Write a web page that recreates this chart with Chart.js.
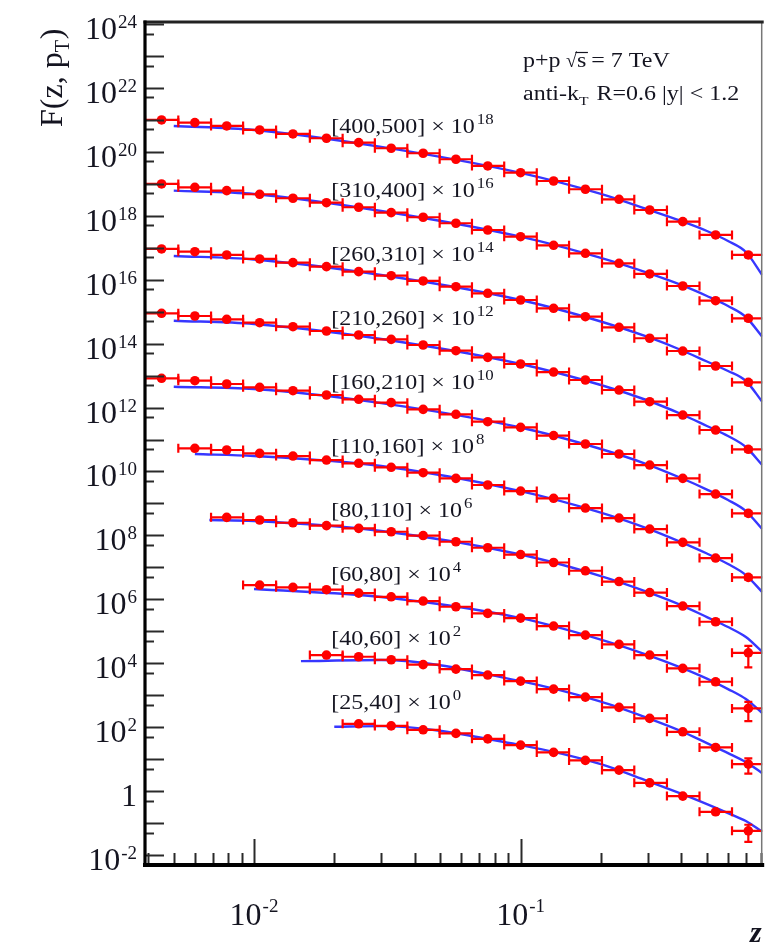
<!DOCTYPE html>
<html>
<head>
<meta charset="utf-8">
<title>F(z, pT)</title>
<script src="https://cdn.jsdelivr.net/npm/chart.js@4.4.1/dist/chart.umd.min.js"></script>
<style>
  html, body { margin: 0; padding: 0; background: #fff; }
  #wrap { width: 767px; height: 949px; }
</style>
</head>
<body>
<div id="wrap"><canvas id="fzChart" width="767" height="949"></canvas></div>
<script>
// --- DATOS ---
// centros y bordes de los bins en z
const zCenters = [0.0045, 0.0060, 0.0079, 0.0105, 0.0140, 0.0187, 0.0247, 0.0327, 0.0431, 0.0572,
                  0.0753, 0.100, 0.133, 0.175, 0.234, 0.305, 0.406, 0.539, 0.715];
const zEdges = [0.0039, 0.0052, 0.0069, 0.0091, 0.0121, 0.0162, 0.0215, 0.0284, 0.0376, 0.0497,
                0.0657, 0.0868, 0.115, 0.152, 0.202, 0.267, 0.354, 0.469, 0.621, 0.824];

// bins de pT del jet, factor de escala (10^n) y primer bin de z con datos
const ptBins = ['[400,500]', '[310,400]', '[260,310]', '[210,260]', '[160,210]',
                '[110,160]', '[80,110]', '[60,80]', '[40,60]', '[25,40]'];
const scaleExp = [18, 16, 14, 12, 10, 8, 6, 4, 2, 0];
const firstBin = [0, 0, 0, 0, 0, 1, 2, 3, 5, 6];

// F(z, pT) medido, sin escalar
const f400_500 = [991, 817, 644, 482, 361, 265, 193, 129, 89.9, 58.5, 36.1, 22.2, 12.2, 6.73, 3.27, 1.51, 0.652, 0.250, 0.0592];
const f310_400 = [986, 776, 608, 469, 352, 256, 184, 125, 89.5, 58.1, 35.8, 22.1, 11.9, 6.68, 3.25, 1.51, 0.634, 0.220, 0.0619];
const f260_310 = [912, 750, 592, 444, 340, 255, 178, 133, 91.0, 60.3, 37.5, 23.1, 12.7, 6.95, 3.24, 1.47, 0.586, 0.199, 0.0615];
const f210_260 = [887, 731, 575, 451, 338, 248, 186, 136, 90.4, 60.0, 37.2, 23.0, 12.9, 7.26, 3.53, 1.52, 0.583, 0.198, 0.0493];
const f160_210 = [820, 690, 545, 430, 336, 247, 181, 142, 87.9, 61.4, 36.0, 24.0, 13.3, 7.23, 3.52, 1.59, 0.610, 0.197, 0.0490];
const f110_160 = [530, 469, 369, 304, 228, 180, 135, 91.4, 61.0, 37.7, 24.4, 14.5, 7.18, 3.49, 1.58, 0.607, 0.196, 0.0486];
const f80_110 = [367, 303, 249, 203, 166, 130, 99.1, 63.4, 41.1, 25.2, 14.2, 7.83, 3.60, 1.63, 0.617, 0.199, 0.0213];
const f60_80 = [280, 237, 200, 157, 120, 88.3, 58.6, 36.4, 25.9, 14.6, 7.62, 3.90, 1.81, 0.693, 0.264, 0.0388];
const f40_60 = [181, 160, 129, 91.0, 65.8, 42.8, 27.7, 15.6, 8.75, 4.17, 1.89, 0.719, 0.233, 0.0702];
const f25_40 = [128, 110, 83.0, 64.1, 43.2, 27.6, 16.3, 9.16, 4.55, 1.82, 0.700, 0.226, 0.0574];

// errores relativos en y (solo los ultimos bins se ven)
const errLast = [0.15, 0.15, 0.15, 0.15, 0.15, 0.15, 0.65, 0.6, 0.5, 0.55];
const errPrev = [0.08, 0.08, 0.08, 0.08, 0.08, 0.08, 0.15, 0.15, 0.12, 0.12];
const errBase = 0.04;

// curvas de ajuste: primer punto (fitStart) y luego los nodos comunes
const fitStart = [0.0050, 0.0050, 0.0050, 0.0050, 0.0050, 0.0060, 0.0068, 0.010, 0.015, 0.020];
const fitKnots = [0.01, 0.03, 0.1, 0.2, 0.3, 0.4, 0.5, 0.6, 0.7, 0.806];
const fit400_500 = [644, 482, 142, 21.8, 4.80, 1.57, 0.685, 0.333, 0.162, 0.0734, 0.0140];
const fit310_400 = [608, 480, 141, 22.1, 4.77, 1.62, 0.682, 0.308, 0.150, 0.0679, 0.0164];
const fit260_310 = [551, 428, 140, 23.1, 4.91, 1.61, 0.631, 0.275, 0.139, 0.0676, 0.0152];
const fit210_260 = [521, 410, 139, 23.0, 5.07, 1.66, 0.627, 0.264, 0.129, 0.0582, 0.0159];
const fit160_210 = [448, 380, 138, 23.7, 5.04, 1.65, 0.624, 0.272, 0.128, 0.0578, 0.0158];
const fit110_160 = [352, 304, 148, 24.4, 5.19, 1.64, 0.619, 0.271, 0.127, 0.0575, 0.0169];
const fit80_110 = [303, 281, 137, 25.2, 5.35, 1.69, 0.662, 0.279, 0.136, 0.0661, 0.0229];
const fit60_80 = [210, 118, 25.9, 5.52, 1.81, 0.735, 0.332, 0.156, 0.0759, 0.0277];
const fit40_60 = [117, 126, 27.7, 6.32, 1.93, 0.757, 0.318, 0.155, 0.0811, 0.0366];
const fit25_40 = [103, 108, 27.6, 7.02, 2.06, 0.837, 0.393, 0.206, 0.116, 0.0535];

const values = [f400_500, f310_400, f260_310, f210_260, f160_210, f110_160, f80_110, f60_80, f40_60, f25_40];
const fits = [fit400_500, fit310_400, fit260_310, fit210_260, fit160_210, fit110_160, fit80_110, fit60_80, fit40_60, fit25_40];

// etiquetas de cada bin: posicion en z y nivel (en unidades sin escalar)
const labelZ = 0.0195;
const labelLevel = 630;

const RED = '#ff0000';
const BLUE = 'rgb(55,55,255)';
const INK = '#141420';
const SERIF = '"Liberation Serif", "Times New Roman", serif';

const series = ptBins.map((bin, i) => ({
    bin: bin,
    exp: scaleExp[i],
    scale: Math.pow(10, scaleExp[i]),
    first: firstBin[i],
    values: values[i],
    fitZ: [fitStart[i]].concat(fitKnots.filter(z => z > fitStart[i])),
    fit: fits[i],
    errLast: errLast[i],
    errPrev: errPrev[i]
}));

// --- DATASETS ---
const datasets = [];
series.forEach(s => {
    datasets.push({
        type: 'line',
        data: s.fitZ.map((z, k) => ({ x: z, y: s.fit[k] * s.scale })),
        borderColor: BLUE,
        borderWidth: 2.4,
        pointRadius: 0,
        fill: false,
        cubicInterpolationMode: 'monotone',
        clip: 0,
        order: 2
    });
    datasets.push({
        type: 'scatter',
        data: s.values.map((v, k) => ({ x: zCenters[s.first + k], y: v * s.scale })),
        backgroundColor: RED,
        borderWidth: 0,
        pointRadius: 4.8,
        clip: 0,
        order: 1
    });
});

// texto con escala horizontal opcional
function drawText(ctx, str, x, y, size, opts) {
    opts = opts || {};
    const sx = opts.sx || 1;
    ctx.save();
    ctx.font = (opts.weight || '') + ' ' + (opts.style || '') + ' ' + size + 'px ' + SERIF;
    ctx.fillStyle = opts.color || INK;
    ctx.textBaseline = opts.baseline || 'alphabetic';
    ctx.textAlign = 'left';
    const w = ctx.measureText(str).width * sx;
    let x0 = x;
    if (opts.align === 'right') x0 = x - w;
    if (opts.align === 'center') x0 = x - w / 2;
    ctx.translate(x0, y);
    ctx.scale(sx, 1);
    ctx.fillText(str, 0, 0);
    ctx.restore();
    return w;
}

function textWidth(ctx, str, size, sx) {
    ctx.save();
    ctx.font = size + 'px ' + SERIF;
    const w = ctx.measureText(str).width * (sx || 1);
    ctx.restore();
    return w;
}

// --- BARRAS DE ERROR ---
const errorBars = {
    id: 'errorBars',
    afterDatasetsDraw(chart) {
        const { ctx, chartArea: a, scales: { x, y } } = chart;
        ctx.save();
        ctx.beginPath();
        ctx.rect(a.left, a.top, a.right - a.left, a.bottom - a.top);
        ctx.clip();
        ctx.strokeStyle = RED;
        ctx.lineWidth = 2.2;
        series.forEach(s => {
            const n = s.values.length;
            s.values.forEach((v, k) => {
                const j = s.first + k;
                const val = v * s.scale;
                const e = k === n - 1 ? s.errLast : (k === n - 2 ? s.errPrev : errBase);
                const px = x.getPixelForValue(zCenters[j]);
                const py = y.getPixelForValue(val);
                const xl = x.getPixelForValue(zEdges[j]);
                const xr = x.getPixelForValue(zEdges[j + 1]);
                const yt = y.getPixelForValue(val * (1 + e));
                const yb = y.getPixelForValue(val * (1 - e));
                ctx.beginPath();
                ctx.moveTo(xl, py); ctx.lineTo(xr, py);
                ctx.moveTo(xl, py - 4.5); ctx.lineTo(xl, py + 4.5);
                ctx.moveTo(xr, py - 4.5); ctx.lineTo(xr, py + 4.5);
                ctx.moveTo(px, yt); ctx.lineTo(px, yb);
                ctx.moveTo(px - 4, yt); ctx.lineTo(px + 4, yt);
                ctx.moveTo(px - 4, yb); ctx.lineTo(px + 4, yb);
                ctx.stroke();
            });
        });
        ctx.restore();
    }
};

// --- MARCO, TICKS Y TEXTOS (estilo ROOT) ---
const frameAndText = {
    id: 'frameAndText',
    afterDraw(chart) {
        const { ctx, chartArea: a, scales: { x, y } } = chart;
        ctx.save();

        // ticks del eje y (hacia dentro)
        ctx.strokeStyle = '#2a2a2a';
        ctx.lineWidth = 2;
        for (let n = -3; n <= 24; n++) {
            [[1, 19], [5, 9]].forEach(([m, len]) => {
                const v = m * Math.pow(10, n);
                if (v < y.min || v > y.max) return;
                const py = Math.round(y.getPixelForValue(v)) + 0.5;
                ctx.beginPath();
                ctx.moveTo(a.left, py);
                ctx.lineTo(a.left + len, py);
                ctx.stroke();
            });
        }

        // ticks del eje x (hacia arriba)
        for (let n = -3; n <= 0; n++) {
            for (let m = 1; m <= 9; m++) {
                const v = m * Math.pow(10, n);
                if (v <= x.min || v >= x.max) continue;
                const px = Math.round(x.getPixelForValue(v)) + 0.5;
                const len = m === 1 ? 26 : 12;
                ctx.beginPath();
                ctx.moveTo(px, a.bottom);
                ctx.lineTo(px, a.bottom - len);
                ctx.stroke();
            }
        }

        // marco
        ctx.lineCap = 'square';
        ctx.strokeStyle = '#777';
        ctx.lineWidth = 1.5;
        ctx.beginPath(); ctx.moveTo(a.right - 0.5, a.top); ctx.lineTo(a.right - 0.5, a.bottom); ctx.stroke();
        ctx.strokeStyle = '#222';
        ctx.lineWidth = 3;
        ctx.beginPath(); ctx.moveTo(a.left, a.top); ctx.lineTo(a.right, a.top); ctx.stroke();
        ctx.strokeStyle = '#000';
        ctx.lineWidth = 3.2;
        ctx.beginPath(); ctx.moveTo(a.left, a.top); ctx.lineTo(a.left, a.bottom); ctx.stroke();
        ctx.lineWidth = 4;
        ctx.beginPath(); ctx.moveTo(a.left, a.bottom); ctx.lineTo(a.right, a.bottom); ctx.stroke();

        // etiquetas del eje y: 10^n cada dos decadas
        for (let n = -2; n <= 24; n += 2) {
            const base = y.getPixelForValue(Math.pow(10, n)) + 15;
            const xr = a.left - 8;
            if (n === 0) {
                drawText(ctx, '1', xr, base, 32, { align: 'right' });
            } else {
                const w = drawText(ctx, String(n), xr, base - 11, 19, { align: 'right' });
                drawText(ctx, '10', xr - w - 1, base, 32, { align: 'right' });
            }
        }

        // etiquetas del eje x
        [-2, -1].forEach(n => {
            const px = x.getPixelForValue(Math.pow(10, n));
            const sup = String(n);
            const w10 = textWidth(ctx, '10', 32);
            const wSup = textWidth(ctx, sup, 19);
            const x0 = px - (w10 + wSup + 1) / 2;
            drawText(ctx, '10', x0, 925, 32);
            drawText(ctx, sup, x0 + w10 + 1, 912, 19);
        });

        // titulos de ejes
        drawText(ctx, 'z', 750, 942, 30, { weight: 'bold', style: 'italic' });
        ctx.save();
        ctx.translate(62, 127);
        ctx.rotate(-Math.PI / 2);
        let w = drawText(ctx, 'F(z, p', 0, 0, 32);
        const wT = drawText(ctx, 'T', w, 7, 20);
        drawText(ctx, ')', w + wT + 1, 0, 32);
        ctx.restore();

        // etiquetas de bin de pT con su factor de escala
        const lx = x.getPixelForValue(labelZ);
        series.forEach(s => {
            const cy = y.getPixelForValue(labelLevel * s.scale);
            const base = cy + 7;
            const w1 = drawText(ctx, s.bin + ' \u00d7 10', lx, base, 20, { sx: 1.2 });
            drawText(ctx, String(s.exp), lx + w1 + 2, base - 9, 14, { sx: 1.2 });
        });

        // cabecera
        const hx = 523;
        drawText(ctx, 'p+p', hx, 67, 20, { sx: 1.2 });
        const wr = drawText(ctx, '\u221a', 566, 67, 20, { sx: 1.0 });
        const ws = drawText(ctx, 's', 566 + wr, 67, 20, { sx: 1.2 });
        ctx.strokeStyle = INK;
        ctx.lineWidth = 1.2;
        ctx.beginPath();
        ctx.moveTo(566 + wr - 1, 52.5);
        ctx.lineTo(566 + wr + ws + 1, 52.5);
        ctx.stroke();
        drawText(ctx, '= 7 TeV', 566 + wr + ws + 5, 67, 20, { sx: 1.2 });

        let hw = drawText(ctx, 'anti-k', hx, 100, 20, { sx: 1.2 });
        hw += drawText(ctx, 'T', hx + hw, 105, 13, { sx: 1.2 });
        drawText(ctx, ' R=0.6 |y| < 1.2', hx + hw + 2, 100, 20, { sx: 1.2 });

        ctx.restore();
    }
};

// --- GRAFICO ---
const ctx = document.getElementById('fzChart').getContext('2d');
const fzChart = new Chart(ctx, {
    data: { datasets: datasets },
    options: {
        responsive: false,
        animation: false,
        devicePixelRatio: 1,
        layout: { padding: { left: 145, right: 1, top: 22, bottom: 84 } },
        scales: {
            x: { type: 'logarithmic', min: 0.0039, max: 0.806, display: false },
            y: { type: 'logarithmic', min: Math.pow(10, -2.31), max: Math.pow(10, 24.06), display: false }
        },
        plugins: {
            legend: { display: false },
            tooltip: { enabled: false }
        }
    },
    plugins: [errorBars, frameAndText]
});
</script>
</body>
</html>
